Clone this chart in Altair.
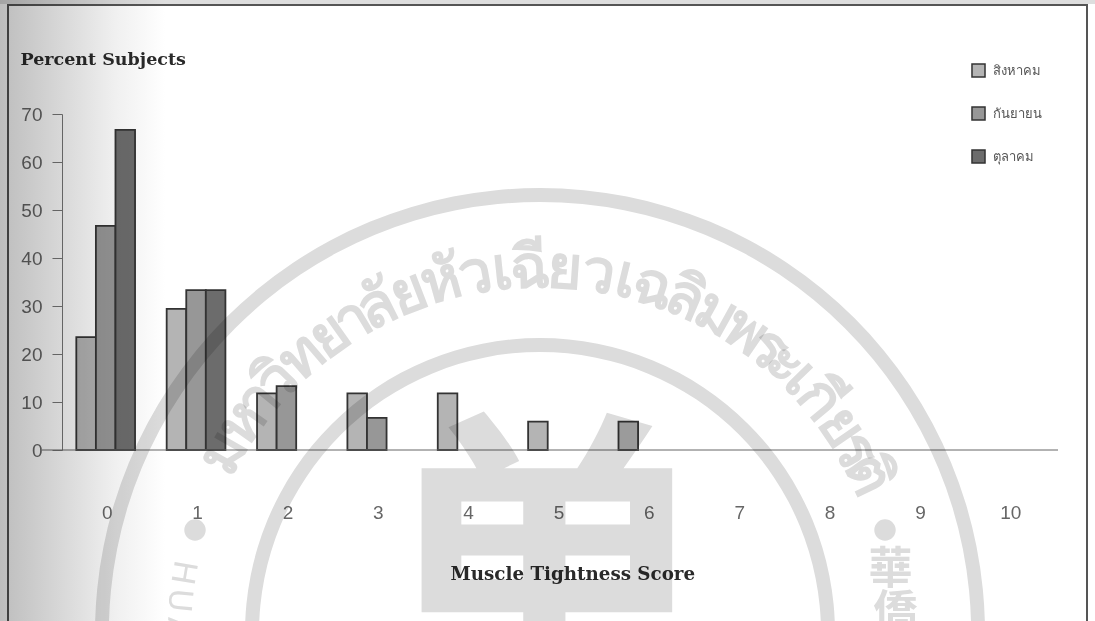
import math
import altair as alt
import pandas as pd

# Percent of subjects per muscle tightness score, by month
scores = list(range(11))
months = ["สิงหาคม", "กันยายน", "ตุลาคม"]
august = [23.5, 29.4, 11.8, 11.8, 11.8, 5.9, 5.9, 0, 0, 0, 0]
september = [46.7, 33.3, 13.3, 6.7, 0, 0, 0, 0, 0, 0, 0]
october = [66.7, 33.3, 0, 0, 0, 0, 0, 0, 0, 0, 0]
month_colors = ["#b4b4b4", "#979797", "#6c6c6c"]

rows = []
for month, series in zip(months, [august, september, october]):
    for score, value in zip(scores, series):
        if value > 0:
            rows.append({"score": score, "month": month, "percent": value})
bars_df = pd.DataFrame(rows)

# Page geometry around the plot area
LEFT, TOP, PLOT_W, PLOT_H = 62, 114, 994, 336
PAGE_W, PAGE_H = 1095, 621
INK = "#dcdcdc"

# Seal printed across the page: centre and rings
SEAL_X, SEAL_Y = 540 - LEFT, 633 - TOP
rings = [(445, 431), (295, 281)]

seal_text = ["ม", "ห", "า", "วิ", "ท", "ย", "า", "ลั", "ย", "หั", "ว", "เ", "ฉี", "ย", "ว",
             "เ", "ฉ", "ลิ", "ม", "พ", "ร", "ะ", "เ", "กี", "ย", "ร", "ติ"]
seal_weight = [1, 1, .6, 1, 1, 1, .6, 1, 1, 1, 1, .6, 1, 1, 1,
               .6, 1, 1, 1, 1, .6, .7, .6, 1, 1, .6, 1]
latin_text = ["H", "U", "A"]
latin_deg = [-80.4, -84.8, -89.2]
side_text = ["華", "僑"]
side_deg = [80, 87]


def along_arc(clusters, weights, start, end):
    total = sum(weights)
    out, run = [], 0
    for c, w in zip(clusters, weights):
        deg = start + (end - start) * (run + w / 2) / total
        out.append({"t": c, "theta": math.radians(deg), "rot": deg % 360})
        run += w
    return pd.DataFrame(out)


def seal_glyphs(df, radius, size, font="DejaVu Sans", rotated=True, weight="normal"):
    enc = dict(
        x=alt.value(SEAL_X), y=alt.value(SEAL_Y),
        theta=alt.Theta("theta:Q", scale=None),
        radius=alt.Radius("r:Q", scale=None),
        text="t:N",
    )
    if rotated:
        enc["angle"] = alt.Angle("rot:Q", scale=None)
    return alt.Chart(df.assign(r=radius)).mark_text(
        font=font, fontSize=size, fontWeight=weight, color=INK, blend="multiply",
        align="center", baseline="middle",
    ).encode(**enc)


one_row = pd.DataFrame({"a": [0]})

arc_layer = seal_glyphs(along_arc(seal_text, seal_weight, -63, 67), 364, 60, weight="bold")
latin_layer = seal_glyphs(
    pd.DataFrame({"t": latin_text, "theta": [math.radians(d) for d in latin_deg],
                  "rot": [d + 180 for d in latin_deg]}),
    362, 32,
)
side_layer = seal_glyphs(
    pd.DataFrame({"t": side_text, "theta": [math.radians(d) for d in side_deg]}),
    356, 44, font="Noto Sans CJK TC", rotated=False, weight="bold",
)

ring_layers = [
    alt.Chart(one_row).mark_arc(
        outerRadius=outer, innerRadius=inner, theta=0, theta2=2 * math.pi,
        color=INK, blend="multiply",
    ).encode(x=alt.value(SEAL_X), y=alt.value(SEAL_Y))
    for outer, inner in rings
]

dot_layers = [
    alt.Chart(one_row).mark_circle(size=460, opacity=1, color=INK, blend="multiply")
    .encode(x=alt.value(px - LEFT), y=alt.value(530 - TOP))
    for px in (195, 885)
]

crest = alt.Chart(pd.DataFrame({"t": ["单"]})).mark_text(
    font="Noto Sans CJK SC", fontWeight="bold", fontSize=340, color=INK, blend="multiply",
    baseline="top", align="center",
).encode(x=alt.value(545 - LEFT), y=alt.value(430 - TOP), text="t:N")

# Printed frame and the shadow along the left edge of the scan
frame = alt.Chart(one_row).mark_rect(
    fill="transparent", stroke="#555555", strokeWidth=2,
).encode(x=alt.value(8 - LEFT), x2=alt.value(1087 - LEFT),
         y=alt.value(5 - TOP), y2=alt.value(PAGE_H + 20 - TOP))

shadow = alt.Chart(one_row).mark_rect(
    fill=alt.LinearGradient(
        gradient="linear", x1=0, x2=1, y1=0, y2=0,
        stops=[alt.GradientStop(offset=0, color="#bdbdbd"),
               alt.GradientStop(offset=0.4, color="#dadada"),
               alt.GradientStop(offset=0.7, color="#f0f0f0"),
               alt.GradientStop(offset=1, color="#ffffff")],
    ),
    blend="multiply",
).encode(x=alt.value(-LEFT), x2=alt.value(165 - LEFT), y=alt.value(-TOP), y2=alt.value(PAGE_H - TOP))

top_edge = alt.Chart(one_row).mark_rect(fill="#dedede").encode(
    x=alt.value(-LEFT), x2=alt.value(PAGE_W - LEFT), y=alt.value(-TOP), y2=alt.value(4 - TOP))

# Bars sit a touch left of their score labels, so the band range is nudged and the labels offset back
x_enc = alt.X(
    "score:O",
    scale=alt.Scale(domain=scores, paddingInner=0.35, paddingOuter=0.175, range=[-1.5, PLOT_W - 1.5]),
    axis=alt.Axis(
        title="Muscle Tightness Score", labelAngle=0, ticks=False, domain=False,
        labelPadding=53, labelOffset=1.5, labelFont="Liberation Sans", labelFontSize=19, labelColor="#666666",
        titleFont="DejaVu Serif", titleFontSize=18.3, titleFontWeight="bold", titleColor="#2a2a2a",
        titleX=450 - LEFT, titleY=124, titleAlign="left", titleBaseline="middle",
    ),
)
y_enc = alt.Y(
    "percent:Q",
    scale=alt.Scale(domain=[0, 70], nice=False),
    axis=alt.Axis(
        title="Percent Subjects", values=list(range(0, 71, 10)), grid=False,
        domainColor="#777777", tickColor="#777777", tickSize=10, labelPadding=10,
        labelFont="Liberation Sans", labelFontSize=19, labelColor="#666666",
        titleFont="DejaVu Serif", titleFontSize=17.5, titleFontWeight="bold", titleColor="#2a2a2a",
        titleAngle=0, titleX=20 - LEFT, titleY=59 - TOP, titleAlign="left", titleBaseline="middle",
    ),
)

bars = alt.Chart(bars_df).mark_bar(stroke="#333333", strokeWidth=1.8).encode(
    x=x_enc,
    xOffset=alt.XOffset("month:N", scale=alt.Scale(domain=months)),
    y=y_enc,
    color=alt.Color(
        "month:N",
        scale=alt.Scale(domain=months, range=month_colors),
        legend=alt.Legend(
            title=None, orient="none", legendX=971 - LEFT, legendY=63 - TOP,
            symbolType="square", symbolSize=170, symbolStrokeColor="#333333", symbolStrokeWidth=1.5,
            rowPadding=22, labelFont="DejaVu Sans", labelFontSize=13, labelColor="#555555",
            labelOffset=7,
        ),
    ),
)

baseline = alt.Chart(one_row).mark_rule(color="#666666", strokeWidth=1).encode(
    x=alt.value(42 - LEFT), x2=alt.value(1058 - LEFT), y=alt.datum(0))

chart = alt.layer(
    top_edge, bars, baseline, frame,
    *ring_layers, arc_layer, latin_layer, side_layer, *dot_layers, crest, shadow,
).properties(
    width=PLOT_W, height=PLOT_H, autosize="none", background="white",
    padding={"left": LEFT, "top": TOP, "right": PAGE_W - LEFT - PLOT_W, "bottom": PAGE_H - TOP - PLOT_H},
).configure_view(stroke=None)

chart.save("out.html", embed_options={"renderer": "svg", "actions": False})
